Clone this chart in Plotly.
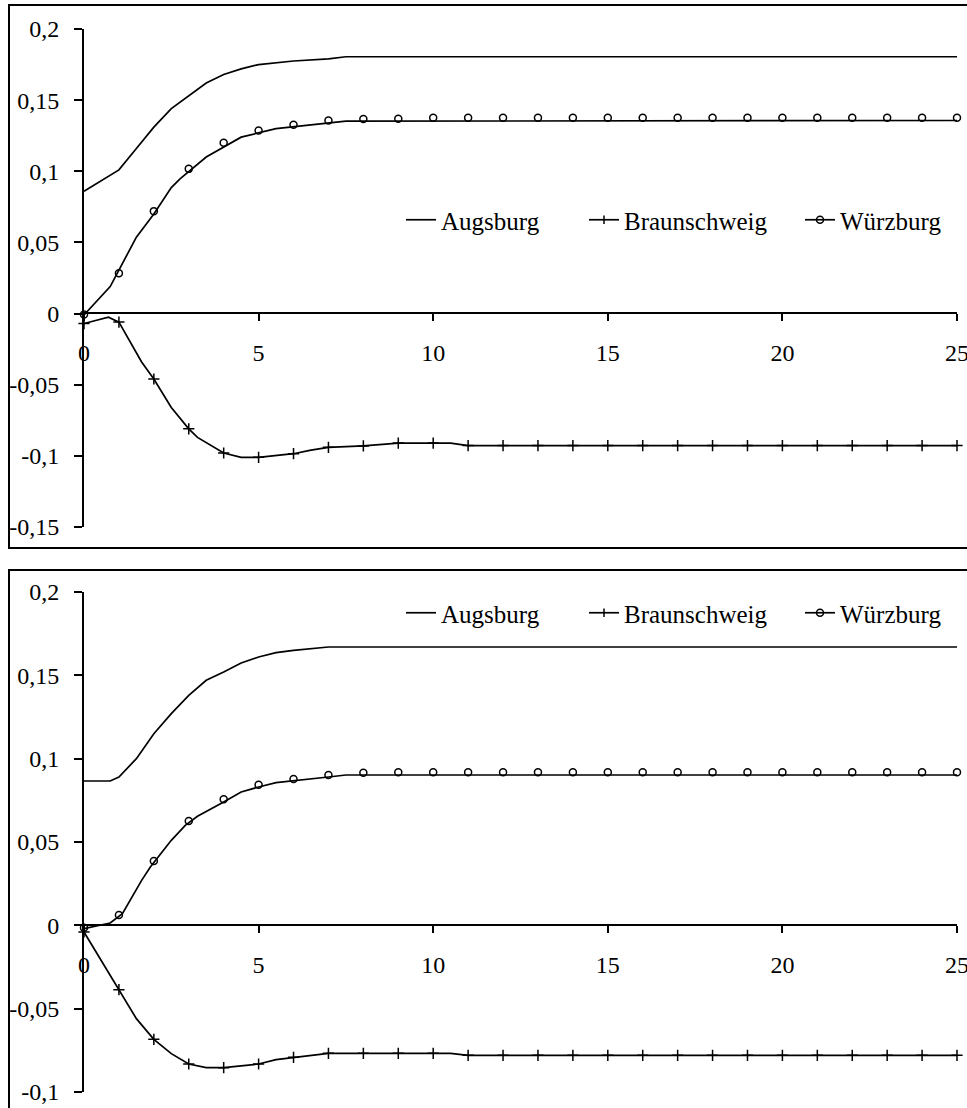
import plotly.graph_objects as go

# ---------------- data: top panel ----------------
aug_top_x = [0, 1, 1.5, 2, 2.5, 3, 3.5, 4, 4.5, 5, 6, 7, 7.5, 25]
aug_top_y = [0.086, 0.101, 0.116, 0.131, 0.144, 0.153, 0.162, 0.168, 0.172, 0.175, 0.1775, 0.179, 0.1805, 0.1805]

bra_top_x = [0, 0.7, 1, 1.65, 2, 2.5, 3, 3.25, 4, 4.5, 5, 6, 6.5, 7, 8, 9, 10, 10.5,
             11, 12, 13, 14, 15, 16, 17, 18, 19, 20, 21, 22, 23, 24, 25]
bra_top_y = [-0.007, -0.0025, -0.006, -0.034, -0.046, -0.066, -0.081, -0.087, -0.098, -0.101,
             -0.101, -0.0985, -0.096, -0.094, -0.093, -0.091, -0.091, -0.091,
             -0.0928, -0.0928, -0.0928, -0.0928, -0.0928, -0.0928, -0.0928, -0.0928,
             -0.0928, -0.0928, -0.0928, -0.0928, -0.0928, -0.0928, -0.0928]

wue_top_line_x = [0, 0.5, 0.75, 1.5, 2, 2.5, 2.75, 3.5, 4.5, 5.5, 7.5, 25]
wue_top_line_y = [-0.001, 0.0127, 0.019, 0.0537, 0.070, 0.0885, 0.0947, 0.110, 0.124, 0.130, 0.1352, 0.1357]

periods = [0, 1, 2, 3, 4, 5, 6, 7, 8, 9, 10, 11, 12, 13, 14, 15, 16, 17, 18, 19, 20, 21, 22, 23, 24, 25]
wue_top_pts = [-0.0007, 0.0284, 0.072, 0.1017, 0.120, 0.1287, 0.1327, 0.1357, 0.1367, 0.137,
               0.1377, 0.1377, 0.1377, 0.1377, 0.1377, 0.1377, 0.1377, 0.1377, 0.1377, 0.1377,
               0.1377, 0.1377, 0.1377, 0.1377, 0.1377, 0.1377]

# ---------------- data: bottom panel ----------------
aug_bot_x = [0, 0.75, 1, 1.5, 2, 2.5, 3, 3.5, 4, 4.5, 5, 5.5, 6, 7, 25]
aug_bot_y = [0.0866, 0.0866, 0.089, 0.100, 0.115, 0.127, 0.138, 0.147, 0.152, 0.1574, 0.161, 0.1636, 0.165, 0.167, 0.167]

bra_bot_x = [0, 1, 1.5, 2, 2.5, 3, 3.5, 4, 5, 5.5, 6, 7, 8, 9, 10, 10.5,
             11, 12, 13, 14, 15, 16, 17, 18, 19, 20, 21, 22, 23, 24, 25]
bra_bot_y = [-0.004, -0.0386, -0.056, -0.0684, -0.077, -0.0832, -0.0854, -0.0854, -0.0832, -0.0806,
             -0.0792, -0.0768, -0.0768, -0.0768, -0.0768, -0.0768,
             -0.078, -0.078, -0.078, -0.078, -0.078, -0.078, -0.078, -0.078,
             -0.078, -0.078, -0.078, -0.078, -0.078, -0.078, -0.078]

wue_bot_line_x = [0, 0.75, 1.1, 1.65, 1.9, 2.5, 2.9, 3.25, 4, 4.5, 5, 5.5, 7, 7.5, 25]
wue_bot_line_y = [-0.002, 0.0014, 0.007, 0.027, 0.035, 0.051, 0.060, 0.0654, 0.074, 0.080, 0.083, 0.0856, 0.089, 0.0902, 0.0902]

wue_bot_pts = [-0.0014, 0.0062, 0.0386, 0.0626, 0.0756, 0.0844, 0.0878, 0.0902, 0.0916, 0.0918,
               0.0918, 0.0918, 0.0918, 0.0918, 0.0918, 0.0918, 0.0918, 0.0918, 0.0918, 0.0918,
               0.0918, 0.0918, 0.0918, 0.0918, 0.0918, 0.0918]

names = ["Augsburg", "Braunschweig", "Würzburg"]
x_ticks = [0, 5, 10, 15, 20, 25]
x_ticktext = ["0", "5", "10", "15", "20", "25"]
y_top_ticks = [0.2, 0.15, 0.1, 0.05, 0, -0.05, -0.1, -0.15]
y_top_text = ["0,2", "0,15", "0,1", "0,05", "0", "-0,05", "-0,1", "-0,15"]
y_bot_ticks = [0.2, 0.15, 0.1, 0.05, 0, -0.05, -0.1]
y_bot_text = ["0,2", "0,15", "0,1", "0,05", "0", "-0,05", "-0,1"]

FONT = "Liberation Serif"
LW = 1.7
fig = go.Figure()


def add_panel(xa, ya, legs, ax, ay, bx, by, wlx, wly, wpts):
    line = dict(color="black", width=LW)
    fig.add_trace(go.Scatter(x=ax, y=ay, mode="lines", line=line, name=names[0],
                             xaxis=xa, yaxis=ya, legend=legs[0]))
    fig.add_trace(go.Scatter(x=[None], y=[None], mode="lines+markers", line=line, name=names[1],
                             marker=dict(symbol="line-ns", size=6, line=dict(color="black", width=1.5)),
                             xaxis=xa, yaxis=ya, legend=legs[1]))
    fig.add_trace(go.Scatter(x=[None], y=[None], mode="lines+markers", line=line, name=names[2],
                             marker=dict(symbol="circle-open", size=7, color="black", line=dict(width=1.5)),
                             xaxis=xa, yaxis=ya, legend=legs[2]))
    # Braunschweig line and its markers at integer periods
    fig.add_trace(go.Scatter(x=bx, y=by, mode="lines", line=line, showlegend=False,
                             xaxis=xa, yaxis=ya))
    mx = [v for v in bx if float(v).is_integer()]
    my = [by[i] for i, v in enumerate(bx) if float(v).is_integer()]
    fig.add_trace(go.Scatter(x=mx, y=my, mode="markers", showlegend=False, cliponaxis=False,
                             marker=dict(symbol="cross-thin", size=8, line=dict(color="black", width=1.5)),
                             xaxis=xa, yaxis=ya))
    # Würzburg line and markers
    fig.add_trace(go.Scatter(x=wlx, y=wly, mode="lines", line=line, showlegend=False,
                             xaxis=xa, yaxis=ya))
    fig.add_trace(go.Scatter(x=periods, y=wpts, mode="markers", showlegend=False, cliponaxis=False,
                             marker=dict(symbol="circle-open", size=7, color="black", line=dict(width=1.5)),
                             xaxis=xa, yaxis=ya))


add_panel("x", "y", ["legend", "legend2", "legend3"], aug_top_x, aug_top_y, bra_top_x, bra_top_y,
          wue_top_line_x, wue_top_line_y, wue_top_pts)
add_panel("x2", "y2", ["legend4", "legend5", "legend6"], aug_bot_x, aug_bot_y, bra_bot_x, bra_bot_y,
          wue_bot_line_x, wue_bot_line_y, wue_bot_pts)

W, H = 967, 1108
xdom = [84 / W, 957 / W]
top_dom = [1 - 527 / H, 1 - 29 / H]
bot_dom = [1 - 1092 / H, 1 - 592 / H]
tickfont = dict(family=FONT, size=24, color="black")

xcommon = dict(range=[0, 25], domain=xdom, showline=True, linecolor="black", linewidth=LW,
               ticks="outside", ticklen=7, tickwidth=LW, tickcolor="black",
               tickvals=x_ticks, ticktext=x_ticktext, showgrid=False, zeroline=False,
               tickfont=tickfont, anchor="free", ticklabelstandoff=11, automargin=False,
               ticklabeloverflow="allow")
ycommon = dict(showline=True, linecolor="black", linewidth=LW, ticks="outside", ticklen=8,
               tickwidth=LW, tickcolor="black", showgrid=False, zeroline=False,
               tickfont=tickfont, ticklabelstandoff=10, automargin=False,
               ticklabeloverflow="allow")


def leg(text_left_px, center_y_px):
    return dict(orientation="h", xanchor="left", yanchor="middle",
                x=(text_left_px - 42) / W, y=1 - center_y_px / H,
                font=dict(family=FONT, size=25, color="black"), bgcolor="rgba(0,0,0,0)",
                itemclick=False, itemdoubleclick=False)


legend_text_left = [443, 626, 842]

fig.update_layout(
    width=W, height=H, margin=dict(l=0, r=0, t=0, b=0, autoexpand=False),
    paper_bgcolor="white", plot_bgcolor="white",
    font=dict(family=FONT, size=24, color="black"),
    xaxis=dict(**xcommon, position=1 - 313 / H),
    yaxis=dict(**ycommon, domain=top_dom, range=[-0.15, 0.2], tickvals=y_top_ticks,
               ticktext=y_top_text, anchor="x"),
    xaxis2=dict(**xcommon, position=1 - 925 / H),
    yaxis2=dict(**ycommon, domain=bot_dom, range=[-0.1, 0.2], tickvals=y_bot_ticks,
                ticktext=y_bot_text, anchor="x2"),
    legend=leg(legend_text_left[0], 220),
    legend2=leg(legend_text_left[1], 220),
    legend3=leg(legend_text_left[2], 220),
    legend4=leg(legend_text_left[0], 613),
    legend5=leg(legend_text_left[1], 613),
    legend6=leg(legend_text_left[2], 613),
    shapes=[
        dict(type="rect", xref="paper", yref="paper", x0=9 / W, x1=1.1, y0=1 - 548 / H, y1=1 - 5 / H,
             line=dict(color="black", width=2)),
        dict(type="rect", xref="paper", yref="paper", x0=9 / W, x1=1.1, y0=-0.1, y1=1 - 570 / H,
             line=dict(color="black", width=2)),
    ],
)

fig.write_html("out.html", config={"displayModeBar": False},
               post_script="document.body.style.margin='0';")
